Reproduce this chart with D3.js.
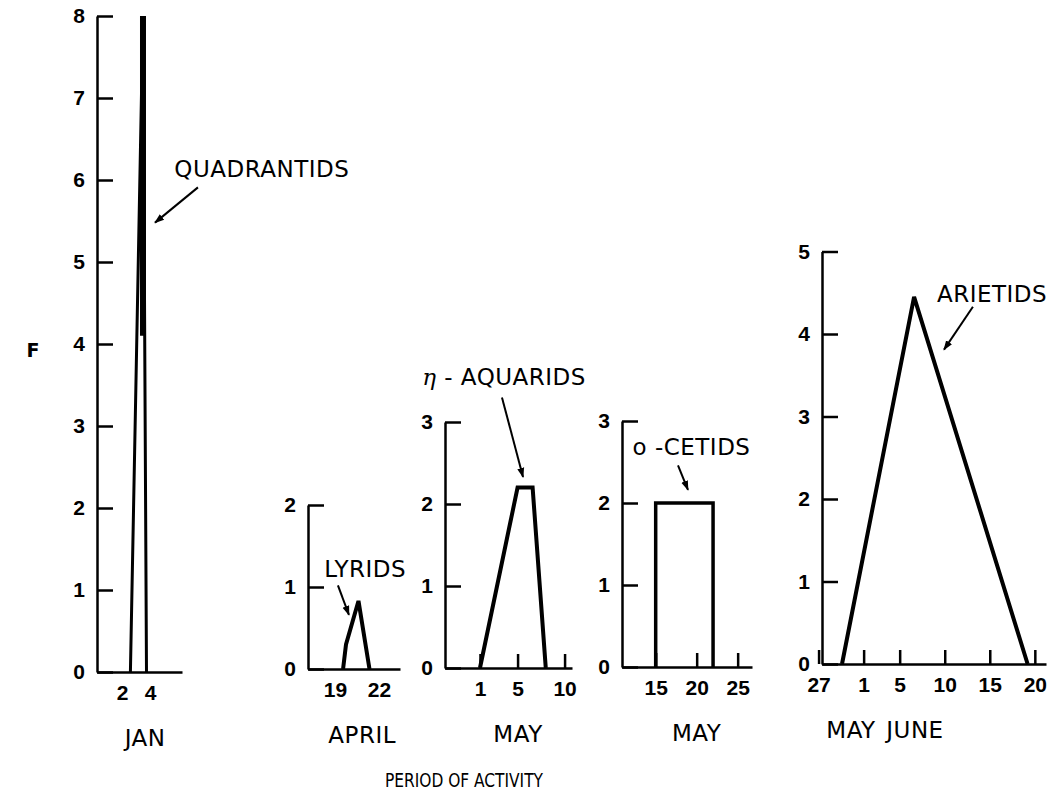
<!DOCTYPE html>
<html>
<head>
<meta charset="utf-8">
<script src="https://cdn.jsdelivr.net/npm/d3@7"></script>
<style>
  body { margin: 0; background: #fff; }
  svg { display: block; font-family: "DejaVu Sans", sans-serif; }
  .axis path, .axis line { stroke: #000; stroke-width: 2.5; }
  .axis text { font-size: 21px; font-weight: bold; fill: #000; font-family: "Liberation Sans", sans-serif; }
  .lbl { font-size: 23px; letter-spacing: 0.5px; fill: #000; }
  .title { font-size: 19px; fill: #000; }
  .shower { fill: none; stroke: #000; stroke-linejoin: miter; }
  .arrow { stroke: #000; stroke-width: 2; }
</style>
</head>
<body>
<svg id="chart" width="1051" height="796"></svg>
<script>
// F against day of activity, one shower per panel
const quadrantids = [[2.6, 0], [3.5, 8], [3.75, 0]];
const quadrantidsCore = [[3.5, 4.1], [3.5, 8]];
const lyrids = [[19.55, 0], [19.75, 0.3], [20.6, 0.83], [21.35, 0]];
const etaAquarids = [[1, 0], [5, 2.2], [6.6, 2.2], [8, 0]];
const omicronCetids = [[15, 0], [15, 2], [22, 2], [22, 0]];
// days counted from May 1 (May 27 = 27, June 1 = 32)
const arietids = [[29.6, 0], [37.6, 4.45], [50.2, 0]];

// tick values and labels
const janTicks = [2, 4];
const aprilTicks = [19, 22];
const mayTicks = [1, 5, 10];
const mayLateTicks = [15, 20, 25];
const juneTicks = [27, 32, 36, 41, 46, 51];
const juneTickLabels = ["27", "1", "5", "10", "15", "20"];
const fTicks8 = [0, 1, 2, 3, 4, 5, 6, 7, 8];
const fTicks2 = [0, 1, 2];
const fTicks3 = [0, 1, 2, 3];
const fTicks5 = [0, 1, 2, 3, 4, 5];

const svg = d3.select("#chart");

const panels = [
  { lines: [quadrantids], core: quadrantidsCore, stroke: 3,
    xDom: [0.21, 6.29], xRange: [97, 182], base: 672, unit: 82,
    fTicks: fTicks8, xTicks: janTicks, xTickSize: 0,
    months: [["JAN", 3.65]],
    note: { text: "QUADRANTIDS", at: [12, 6.04], from: [7.43, 5.91], to: [4.36, 5.48] } },
  { lines: [lyrids], stroke: 4,
    xDom: [17.16, 23.43], xRange: [308, 400], base: 669, unit: 82,
    fTicks: fTicks2, xTicks: aprilTicks, xTickSize: 0,
    months: [["APRIL", 20.85]],
    note: { text: "LYRIDS", at: [21.05, 1.12], from: [19.2, 1.02], to: [19.95, 0.66] } },
  { lines: [etaAquarids], stroke: 4,
    xDom: [-2.72, 10.79], xRange: [445, 572], base: 668, unit: 82,
    fTicks: fTicks3, xTicks: mayTicks, xTickSize: 14,
    months: [["MAY", 5.05]],
    note: { greek: "η", text: " - AQUARIDS", at: [3.56, 3.45], from: [3.34, 3.30], to: [5.58, 2.33] } },
  { lines: [omicronCetids], stroke: 3.5,
    xDom: [10.89, 26.75], xRange: [622, 752], base: 667, unit: 82,
    fTicks: fTicks3, xTicks: mayLateTicks, xTickSize: 14,
    months: [["MAY", 20]],
    note: { text: "ο -CETIDS", at: [19.37, 2.59], from: [17.72, 2.46], to: [18.94, 2.16] } },
  { lines: [arietids], stroke: 4,
    xDom: [27.38, 52.24], xRange: [822, 1046], base: 664, unit: 82.5,
    fTicks: fTicks5, xTicks: juneTicks, xTickLabels: juneTickLabels, xTickSize: 14,
    months: [["MAY", 30.6], ["JUNE", 37.7]],
    note: { text: "ARIETIDS", at: [46.25, 4.39], from: [44.13, 4.33], to: [40.92, 3.81] } }
];

svg.append("defs").append("marker")
  .attr("id", "head")
  .attr("viewBox", "0 0 10 10")
  .attr("refX", 9).attr("refY", 5)
  .attr("markerWidth", 5).attr("markerHeight", 5)
  .attr("orient", "auto")
  .append("path").attr("d", "M0,1.5 L10,5 L0,8.5 z").attr("fill", "#000");

panels.forEach(function(p) {
  const fMax = d3.max(p.fTicks);
  const x = d3.scaleLinear().domain(p.xDom).range(p.xRange);
  const y = d3.scaleLinear().domain([0, fMax]).range([p.base, p.base - fMax * p.unit]);
  const g = svg.append("g");

  const xAxis = d3.axisBottom(x)
    .tickValues(p.xTicks)
    .tickFormat(d3.format("d"))
    .tickSizeInner(-p.xTickSize)
    .tickSizeOuter(0)
    .tickPadding(13);
  if (p.xTickLabels) xAxis.tickFormat((d, i) => p.xTickLabels[i]);
  g.append("g").attr("class", "axis")
    .attr("transform", "translate(0," + p.base + ")")
    .call(xAxis);

  g.append("g").attr("class", "axis")
    .attr("transform", "translate(" + p.xRange[0] + ",0)")
    .call(d3.axisLeft(y).tickValues(p.fTicks).tickFormat(d3.format("d"))
      .tickSizeInner(-16).tickSizeOuter(0).tickPadding(12));

  const line = d3.line().x(d => x(d[0])).y(d => y(d[1]));
  p.lines.forEach(function(s) {
    g.append("path").attr("class", "shower")
      .attr("stroke-width", p.stroke)
      .attr("d", line(s));
  });
  if (p.core) {
    g.append("path").attr("class", "shower")
      .attr("stroke-width", 6)
      .attr("d", line(p.core));
  }

  p.months.forEach(function(m) {
    g.append("text").attr("class", "lbl")
      .attr("x", x(m[1])).attr("y", p.base + 74)
      .attr("text-anchor", "middle")
      .text(m[0]);
  });

  const n = p.note;
  const t = g.append("text").attr("class", "lbl")
    .attr("x", x(n.at[0])).attr("y", y(n.at[1]))
    .attr("text-anchor", "middle");
  if (n.greek) {
    t.append("tspan").attr("font-style", "italic").attr("font-family", "DejaVu Serif").text(n.greek);
  }
  t.append("tspan").text(n.text);
  g.append("line").attr("class", "arrow")
    .attr("x1", x(n.from[0])).attr("y1", y(n.from[1]))
    .attr("x2", x(n.to[0])).attr("y2", y(n.to[1]))
    .attr("marker-end", "url(#head)");
});

svg.append("text")
  .attr("x", 33).attr("y", 357)
  .attr("text-anchor", "middle")
  .style("font-size", "19px").style("font-weight", "bold")
  .text("F");

// condensed lettering, squeezed to the width it has on the original
svg.append("text").attr("class", "title")
  .attr("x", 385).attr("y", 787)
  .attr("textLength", 158)
  .attr("lengthAdjust", "spacingAndGlyphs")
  .text("PERIOD OF ACTIVITY");
</script>
</body>
</html>
